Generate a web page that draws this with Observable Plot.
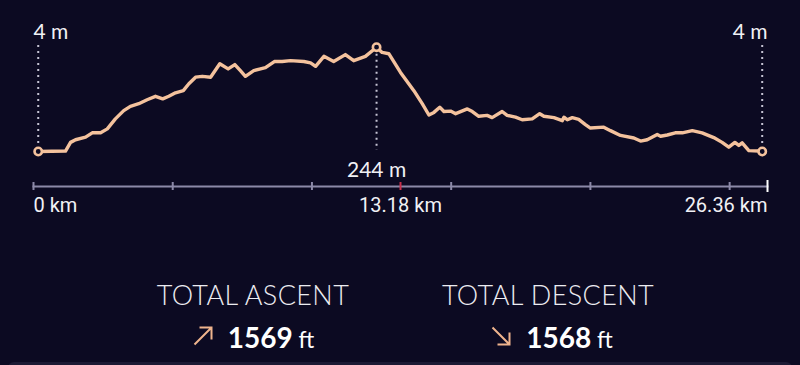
<!DOCTYPE html>
<html>
<head>
<meta charset="utf-8">
<script src="https://cdn.jsdelivr.net/npm/d3@7"></script>
<script src="https://cdn.jsdelivr.net/npm/@observablehq/plot@0.6"></script>
<style>
  html, body { margin: 0; padding: 0; background: #0c0a22; }
  #wrap { position: relative; width: 800px; height: 365px; overflow: hidden; background: #0c0a22; }
  #chart { position: absolute; left: 0; top: 0; }
  .title { position: absolute; width: 300px; text-align: center; font-family: Lato, sans-serif; font-weight: 300;
           font-size: 27px; line-height: 27px; color: #ececf1; letter-spacing: 0.4px; white-space: nowrap; }
  .value { position: absolute; width: 300px; text-align: center; font-family: Lato, sans-serif; font-weight: 700;
           font-size: 28px; line-height: 28px; color: #ffffff; white-space: nowrap; }
  .value .unit { font-weight: 400; font-size: 23px; }
  .value svg { vertical-align: 2px; margin-right: 15px; }
  #band { position: absolute; left: 8px; right: 8px; top: 362px; height: 12px; border-radius: 10px; background: #1c1a34; }
</style>
</head>
<body>
<div id="wrap">
  <div id="chart"></div>
  <div class="title" style="left:103px; top:281px;">TOTAL ASCENT</div>
  <div class="title" style="left:398px; top:281px;">TOTAL DESCENT</div>
  <div class="value" id="asc" style="left:103.5px; top:322.7px;"></div>
  <div class="value" id="desc" style="left:402px; top:322.7px;"></div>
  <div id="band"></div>
</div>
<script>
// ---- data ----
const distanceKm = [0.17,1.15,1.33,1.51,1.87,2.11,2.41,2.65,2.94,3.24,
  3.48,3.78,4.08,4.38,4.64,4.86,5.10,5.38,5.58,5.82,
  6.06,6.36,6.69,6.99,7.23,7.43,7.61,7.91,8.33,8.65,
  8.93,9.23,9.71,9.95,10.13,10.43,10.78,11.20,11.50,11.92,
  12.32,12.52,12.76,13.18,13.66,13.96,14.20,14.38,14.59,14.74,
  14.98,15.16,15.58,15.76,15.99,16.29,16.47,16.83,17.01,17.31,
  17.55,17.91,18.18,18.33,18.69,18.99,19.05,19.17,19.35,19.58,
  19.82,20.00,20.48,20.72,21.08,21.56,21.80,22.04,22.40,22.52,
  22.76,23.05,23.30,23.66,24.01,24.43,24.73,24.97,25.19,25.33,
  25.45,25.69,26.05,26.17];
const elevationM = [4,5,25,31,37,47,47,56,79,98,
  108,114,123,131,125,131,139,144,160,175,
  177,175,206,194,204,190,177,190,197,211,
  211,213,211,208,200,223,211,227,213,223,
  244,232,229,186,144,114,88,94,106,96,
  97,91,102,96,85,87,82,96,87,83,
  77,79,91,85,82,75,83,77,82,78,
  66,58,60,52,41,35,28,31,43,39,
  42,47,47,52,47,36,25,14,25,18,
  24,6,5,4];
const tickKm = [0, 5, 10, 15, 20, 25];
const totalKm = 26.36;
const midKm = 13.18;
const axisLabels = ["0 km", "13.18 km", "26.36 km"];
const totalAscentFt = 1569;
const totalDescentFt = 1568;

// ---- styling ----
const BG = "#0c0a22";
const PEACH = "#f4c29d";
const AXIS = "#8c89a8";
const RED = "#c8304c";
const DOT = "#c4c2d2";
const TXT = "#f1f1f5";

const pts = distanceKm.map((d, i) => ({d, e: elevationM[i]}));
const iPeak = d3.maxIndex(elevationM);
const peak = pts[iPeak];
const first = pts[0];
const last = pts[pts.length - 1];

const label = {fill: TXT, lineAnchor: "middle"};

const chart = Plot.plot({
  width: 800,
  height: 230,
  marginTop: 44,
  marginBottom: 44,
  marginLeft: 33,
  marginRight: 33,
  style: {background: "transparent", overflow: "visible"},
  x: {domain: [0, totalKm], range: [33, 767], axis: null},
  y: {domain: [4, 244], range: [151, 46.7], axis: null},
  marks: [
    Plot.frame({anchor: "bottom", stroke: AXIS, strokeWidth: 2}),
    Plot.ruleX(tickKm, {x: d => d, insetTop: 138, insetBottom: -4, stroke: AXIS, strokeWidth: 2}),
    Plot.ruleX([midKm], {x: d => d, insetTop: 138, insetBottom: -4, stroke: RED, strokeWidth: 2}),
    Plot.ruleX([totalKm], {x: d => d, insetTop: 136, insetBottom: -6, stroke: "#ffffff", strokeWidth: 2}),
    Plot.ruleX([first, last], {x: "d", insetTop: 1, insetBottom: 40, stroke: DOT, strokeWidth: 2, strokeDasharray: "2 4"}),
    Plot.ruleX([peak], {x: "d", y1: "e", y2: () => 4, insetTop: 7, insetBottom: 1, stroke: DOT, strokeWidth: 2, strokeDasharray: "2 4"}),
    Plot.line(pts, {x: "d", y: "e", stroke: PEACH, strokeWidth: 3.4, strokeLinejoin: "round", strokeLinecap: "round"}),
    Plot.dot([first, peak, last], {x: "d", y: "e", r: 3.7, stroke: PEACH, strokeWidth: 2.6, fill: BG}),
    // elevation labels
    Plot.text([first], {...label, x: () => 0, text: d => `${d.e} m`, frameAnchor: "top", dy: -12.5, textAnchor: "start",
      fontSize: 21, fontFamily: "Lato, sans-serif"}),
    Plot.text([last], {...label, x: () => totalKm, text: d => `${d.e} m`, frameAnchor: "top", dy: -12.5, textAnchor: "end",
      fontSize: 21, fontFamily: "Lato, sans-serif"}),
    Plot.text([peak], {...label, x: "d", text: d => `${d.e} m`, frameAnchor: "bottom", dy: -16.5, textAnchor: "middle",
      fontSize: 21, fontFamily: "Lato, sans-serif"}),
    // distance labels
    Plot.text([axisLabels[0]], {...label, x: () => 0, text: d => d, frameAnchor: "bottom", dy: 19.5, textAnchor: "start",
      fontSize: 20, fontFamily: "Roboto, sans-serif"}),
    Plot.text([axisLabels[1]], {...label, x: () => midKm, text: d => d, frameAnchor: "bottom", dy: 19.5, textAnchor: "middle",
      fontSize: 20, fontFamily: "Roboto, sans-serif"}),
    Plot.text([axisLabels[2]], {...label, x: () => totalKm, text: d => d, frameAnchor: "bottom", dy: 19.5, textAnchor: "end",
      fontSize: 20, fontFamily: "Roboto, sans-serif"})
  ]
});
document.getElementById("chart").appendChild(chart);

const upArrow = `<svg width="20" height="20" viewBox="0 0 20 20"><path d="M1.5 18.5 L18.5 1.5 M6.5 1.5 L18.5 1.5 L18.5 13.5" fill="none" stroke="#efb48d" stroke-width="2"/></svg>`;
const downArrow = `<svg width="20" height="20" viewBox="0 0 20 20"><path d="M1.5 1.5 L18.5 18.5 M18.5 6.5 L18.5 18.5 L6.5 18.5" fill="none" stroke="#efb48d" stroke-width="2"/></svg>`;
document.getElementById("asc").innerHTML = `${upArrow}${totalAscentFt}<span class="unit"> ft</span>`;
document.getElementById("desc").innerHTML = `${downArrow}${totalDescentFt}<span class="unit"> ft</span>`;
</script>
</body>
</html>
